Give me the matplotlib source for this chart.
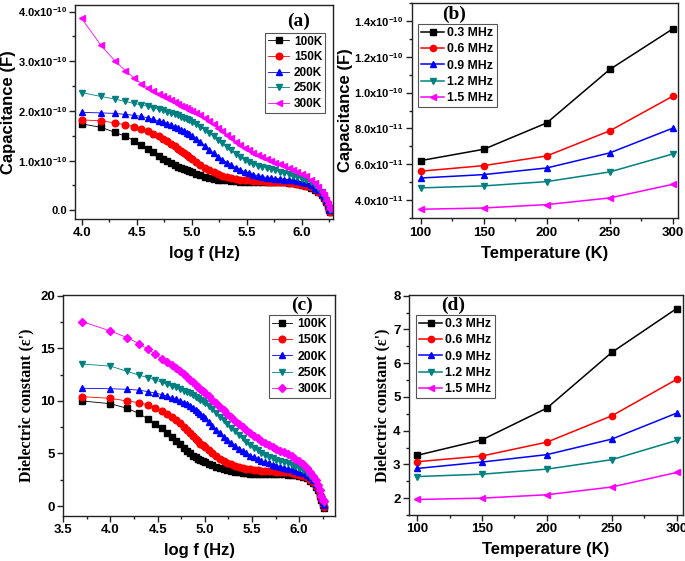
import numpy as np
import matplotlib
matplotlib.use('Agg')
import matplotlib.pyplot as plt
from matplotlib.ticker import MultipleLocator

plt.rcParams['font.family'] = ['Liberation Sans', 'DejaVu Sans']
plt.rcParams['font.weight'] = 'bold'
plt.rcParams['mathtext.default'] = 'regular'

# ---------------- data ----------------
# log f grid (panel a); panel c adds a 5 kHz point at the start
logf = [4.0, 4.176, 4.301, 4.398, 4.477, 4.544, 4.602, 4.653, 4.699, 4.740,
        4.778, 4.813, 4.845, 4.875, 4.903, 4.929, 4.954, 4.978, 5.0,
        5.04, 5.08, 5.12, 5.16, 5.20, 5.24, 5.28, 5.32, 5.36, 5.40,
        5.44, 5.48, 5.52, 5.56, 5.60, 5.64, 5.68, 5.72, 5.76, 5.80,
        5.84, 5.88, 5.92, 5.96, 6.00, 6.04, 6.08, 6.12,
        6.15, 6.18, 6.20, 6.22, 6.235, 6.25, 6.26]
logf_c = [3.699] + logf

temp_labels = ['100K', '150K', '200K', '250K', '300K']

# capacitance, units of 1e-10 F
cap_100K = [1.74, 1.67, 1.57, 1.49, 1.40, 1.32, 1.24, 1.17, 1.09, 1.03, 0.99, 0.95, 0.91, 0.88, 0.85, 0.83, 0.81, 0.79, 0.77,
            0.74, 0.71, 0.68, 0.66, 0.64, 0.62, 0.61, 0.60, 0.59, 0.58, 0.57, 0.57, 0.56, 0.56, 0.56, 0.56, 0.56, 0.56, 0.56, 0.56,
            0.56, 0.55, 0.54, 0.52, 0.50, 0.48, 0.45, 0.41,
            0.36, 0.30, 0.24, 0.16, 0.08, 0.0, -0.04]
cap_150K = [1.82, 1.80, 1.76, 1.72, 1.68, 1.64, 1.59, 1.54, 1.50, 1.44, 1.39, 1.34, 1.29, 1.24, 1.20, 1.15, 1.11, 1.07, 1.04,
            0.98, 0.92, 0.86, 0.81, 0.77, 0.73, 0.70, 0.67, 0.65, 0.63, 0.62, 0.61, 0.60, 0.59, 0.58, 0.58, 0.57, 0.57, 0.57, 0.56,
            0.56, 0.55, 0.54, 0.53, 0.51, 0.49, 0.46, 0.42,
            0.37, 0.31, 0.25, 0.17, 0.09, 0.01, -0.03]
cap_200K = [1.97, 1.96, 1.95, 1.93, 1.91, 1.89, 1.86, 1.83, 1.80, 1.77, 1.74, 1.71, 1.68, 1.65, 1.62, 1.59, 1.56, 1.53, 1.50,
            1.44, 1.37, 1.30, 1.22, 1.15, 1.08, 1.02, 0.96, 0.91, 0.86, 0.82, 0.78, 0.75, 0.72, 0.70, 0.68, 0.66, 0.65, 0.64, 0.63,
            0.62, 0.61, 0.60, 0.58, 0.56, 0.54, 0.50, 0.45,
            0.40, 0.33, 0.27, 0.19, 0.11, 0.03, 0.0]
cap_250K = [2.37, 2.29, 2.24, 2.19, 2.15, 2.12, 2.09, 2.06, 2.03, 2.01, 1.98, 1.96, 1.93, 1.91, 1.88, 1.86, 1.83, 1.81, 1.78,
            1.73, 1.68, 1.62, 1.56, 1.49, 1.42, 1.35, 1.28, 1.21, 1.14, 1.08, 1.02, 0.97, 0.93, 0.90, 0.88, 0.86, 0.83, 0.81, 0.78,
            0.76, 0.73, 0.70, 0.67, 0.64, 0.60, 0.56, 0.50,
            0.44, 0.36, 0.29, 0.20, 0.12, 0.04, 0.01]
cap_300K = [3.86, 3.32, 3.01, 2.81, 2.66, 2.55, 2.47, 2.41, 2.35, 2.30, 2.25, 2.21, 2.17, 2.14, 2.10, 2.07, 2.05, 2.02, 2.00,
            1.96, 1.91, 1.86, 1.80, 1.73, 1.66, 1.59, 1.52, 1.45, 1.38, 1.32, 1.26, 1.21, 1.16, 1.11, 1.07, 1.03, 1.00, 0.96, 0.93,
            0.89, 0.86, 0.82, 0.78, 0.74, 0.69, 0.62, 0.54,
            0.46, 0.37, 0.30, 0.21, 0.13, 0.05, 0.02]

# dielectric constant vs log f (panel c)
eps_100K = [9.99, 9.73, 9.29, 8.81, 8.27, 7.83, 7.39, 6.97, 6.59, 6.21, 5.87, 5.55, 5.25, 5.00, 4.80, 4.65, 4.52, 4.40, 4.30, 4.20,
            4.03, 3.88, 3.75, 3.60, 3.50, 3.40, 3.32, 3.25, 3.20, 3.15, 3.10, 3.07, 3.05, 3.04, 3.03, 3.03, 3.03, 3.03, 3.03, 3.02,
            3.01, 3.00, 2.98, 2.93, 2.87, 2.78, 2.63, 2.42,
            2.20, 1.85, 1.50, 1.00, 0.60, 0.15, -0.20]
eps_150K = [10.40, 10.24, 9.99, 9.83, 9.61, 9.35, 9.07, 8.78, 8.50, 8.18, 7.86, 7.55, 7.22, 6.90, 6.62, 6.37, 6.14, 5.94, 5.77, 5.62,
            5.30, 5.00, 4.75, 4.52, 4.30, 4.12, 3.97, 3.85, 3.74, 3.64, 3.55, 3.48, 3.43, 3.39, 3.36, 3.34, 3.32, 3.30, 3.28, 3.26,
            3.23, 3.20, 3.15, 3.08, 3.00, 2.90, 2.75, 2.52,
            2.30, 1.95, 1.60, 1.10, 0.65, 0.20, -0.10]
eps_200K = [11.20, 11.15, 11.10, 11.02, 10.88, 10.73, 10.60, 10.46, 10.30, 10.14, 9.99, 9.84, 9.68, 9.50, 9.32, 9.13, 8.95, 8.75, 8.55, 8.35,
            8.00, 7.62, 7.25, 6.90, 6.58, 6.27, 5.98, 5.70, 5.45, 5.22, 5.00, 4.80, 4.62, 4.46, 4.31, 4.17, 4.05, 3.94, 3.84, 3.75,
            3.66, 3.57, 3.48, 3.38, 3.27, 3.13, 2.95, 2.72,
            2.45, 2.10, 1.75, 1.25, 0.80, 0.35, 0.10]
eps_250K = [13.50, 13.30, 12.80, 12.45, 12.20, 11.98, 11.76, 11.57, 11.41, 11.27, 11.12, 10.97, 10.84, 10.70, 10.55, 10.40, 10.25, 10.10, 9.95, 9.80,
            9.50, 9.18, 8.84, 8.50, 8.15, 7.80, 7.45, 7.10, 6.76, 6.43, 6.12, 5.82, 5.55, 5.30, 5.08, 4.88, 4.71, 4.56, 4.42, 4.30,
            4.18, 4.06, 3.93, 3.78, 3.60, 3.40, 3.15, 2.85,
            2.55, 2.15, 1.80, 1.30, 0.85, 0.45, 0.25]
eps_300K = [17.53, 16.64, 16.01, 15.44, 14.90, 14.43, 13.98, 13.66, 13.41, 13.10, 12.85, 12.60, 12.30, 12.02, 11.78, 11.55, 11.35, 11.15, 10.95, 10.75,
            10.45, 10.12, 9.80, 9.45, 9.10, 8.75, 8.42, 8.10, 7.80, 7.50, 7.22, 6.95, 6.70, 6.45, 6.20, 5.98, 5.78, 5.60, 5.42, 5.28,
            5.10, 4.92, 4.72, 4.50, 4.25, 3.97, 3.65, 3.28,
            2.90, 2.45, 2.05, 1.50, 1.00, 0.60, 0.50]

# temperature dependence (panels b, d)
temperature = [100, 150, 200, 250, 300]
freq_labels = ['0.3 MHz', '0.6 MHz', '0.9 MHz', '1.2 MHz', '1.5 MHz']
# capacitance in units of 1e-11 F
capT_03 = [6.21, 6.84, 8.31, 11.29, 13.55]
capT_06 = [5.62, 5.93, 6.47, 7.87, 9.80]
capT_09 = [5.24, 5.43, 5.80, 6.64, 8.02]
capT_12 = [4.69, 4.80, 5.04, 5.58, 6.58]
capT_15 = [3.50, 3.57, 3.76, 4.13, 4.89]
epsT_03 = [3.27, 3.73, 4.67, 6.32, 7.62]
epsT_06 = [3.08, 3.25, 3.66, 4.44, 5.52]
epsT_09 = [2.88, 3.07, 3.29, 3.75, 4.52]
epsT_12 = [2.64, 2.71, 2.86, 3.14, 3.71]
epsT_15 = [1.96, 2.00, 2.10, 2.33, 2.76]

# tick labels
a_yticks = [0.0, 1.0e-10, 2.0e-10, 3.0e-10, 4.0e-10]
a_yticklabels = ['0.0', '1.0x10$^{-10}$', '2.0x10$^{-10}$', '3.0x10$^{-10}$', '4.0x10$^{-10}$']
b_yticks = [4.0e-11, 6.0e-11, 8.0e-11, 1.0e-10, 1.2e-10, 1.4e-10]
b_yticklabels = ['4.0x10$^{-11}$', '6.0x10$^{-11}$', '8.0x10$^{-11}$',
                 '1.0x10$^{-10}$', '1.2x10$^{-10}$', '1.4x10$^{-10}$']

colors = ['#000000', '#ff0000', '#0000ff', '#008080', '#ff00ff']
mk_a = ['s', 'o', '^', 'v', '<']
mk_c = ['s', 'o', '^', 'v', 'D']
mk_t = ['s', 'o', '^', 'v', '<']

serif = ['Liberation Serif', 'DejaVu Serif']

fig = plt.figure(figsize=(6.85, 5.61), dpi=100)
ax_a = fig.add_axes([0.1095, 0.6096, 0.3771, 0.3814])
ax_b = fig.add_axes([0.601, 0.611, 0.389, 0.384])
ax_c = fig.add_axes([0.0924, 0.080, 0.3966, 0.394])
ax_d = fig.add_axes([0.597, 0.082, 0.400, 0.392])


def style(ax, ysize=9.5):
    for s in ax.spines.values():
        s.set_linewidth(1.0)
        s.set_color('#222222')
    ax.tick_params(which='both', direction='out', top=False, right=False,
                   labelsize=9.5, pad=2, width=1.0, color='#222222')
    ax.tick_params(axis='y', labelsize=ysize)
    ax.tick_params(which='major', length=4)
    ax.tick_params(which='minor', length=2.5)
    for lab in ax.get_xticklabels() + ax.get_yticklabels():
        lab.set_fontweight('bold')


def legend(ax, loc, anchor, size, hl, htp, ls, bp):
    lg = ax.legend(loc=loc, bbox_to_anchor=anchor, borderaxespad=0,
                   prop={'weight': 'bold', 'size': size}, fancybox=False,
                   edgecolor='#555555', framealpha=1, handlelength=hl,
                   handletextpad=htp, labelspacing=ls, borderpad=bp)
    lg.get_frame().set_linewidth(0.8)


# ---- panel a ----
caps = [cap_100K, cap_150K, cap_200K, cap_250K, cap_300K]
for vals, c, m, lab in zip(caps, colors, mk_a, temp_labels):
    ax_a.plot(logf, np.array(vals) * 1e-10, color=c, marker=m, ms=4.8,
              lw=0.6, mec=c, mfc=c, label=lab)
ax_a.set_xlim(3.94, 6.287)
ax_a.set_ylim(-0.175e-10, 4.13e-10)
ax_a.xaxis.set_major_locator(MultipleLocator(0.5))
ax_a.xaxis.set_minor_locator(MultipleLocator(0.25))
ax_a.set_yticks(a_yticks, labels=a_yticklabels)
ax_a.yaxis.set_minor_locator(MultipleLocator(0.5e-10))
ax_a.xaxis.set_major_formatter(plt.FormatStrFormatter('%.1f'))
ax_a.set_xlabel('log f (Hz)', fontsize=12, fontweight='bold', labelpad=5)
ax_a.set_ylabel('Capacitance (F)', fontsize=12, fontweight='bold')
ax_a.yaxis.set_label_coords(-0.228, 0.5)
ax_a.text(0.866, 0.922, '(a)', transform=ax_a.transAxes, ha='center', va='center',
          fontsize=14, fontweight='bold', family=serif)
style(ax_a, ysize=8.0)
legend(ax_a, 'upper right', (0.969, 0.871), 8.5, 1.75, 0.42, 0.3, 0.25)

# ---- panel b ----
capT = [capT_03, capT_06, capT_09, capT_12, capT_15]
for vals, c, m, lab in zip(capT, colors, mk_t, freq_labels):
    ax_b.plot(temperature, np.array(vals) * 1e-11, color=c, marker=m, ms=4.5,
              lw=1.1, mec=c, mfc=c, label=lab)
ax_b.set_xlim(92.9, 304.2)
ax_b.set_ylim(3.0e-11, 1.5e-10)
ax_b.xaxis.set_major_locator(MultipleLocator(50))
ax_b.xaxis.set_minor_locator(MultipleLocator(25))
ax_b.set_yticks(b_yticks, labels=b_yticklabels)
ax_b.yaxis.set_minor_locator(MultipleLocator(1e-11))
ax_b.set_xlabel('Temperature (K)', fontsize=12, fontweight='bold', labelpad=5)
ax_b.set_ylabel('Capacitance (F)', fontsize=12, fontweight='bold')
ax_b.yaxis.set_label_coords(-0.222, 0.5)
ax_b.text(0.158, 0.948, '(b)', transform=ax_b.transAxes, ha='center', va='center',
          fontsize=14, fontweight='bold', family=serif)
style(ax_b, ysize=8.0)
legend(ax_b, 'upper left', (0.024, 0.901), 8.8, 1.9, 0.25, 0.35, 0.25)

# ---- panel c ----
epss = [eps_100K, eps_150K, eps_200K, eps_250K, eps_300K]
for vals, c, m, lab in zip(epss, colors, mk_c, temp_labels):
    ax_c.plot(logf_c, vals, color=c, marker=m, ms=4.8 if m != 'D' else 4.2,
              lw=0.6, mec=c, mfc=c, label=lab)
ax_c.set_xlim(3.5, 6.38)
ax_c.set_ylim(-0.95, 20.05)
ax_c.xaxis.set_major_locator(MultipleLocator(0.5))
ax_c.xaxis.set_minor_locator(MultipleLocator(0.25))
ax_c.yaxis.set_major_locator(MultipleLocator(5))
ax_c.yaxis.set_minor_locator(MultipleLocator(2.5))
ax_c.xaxis.set_major_formatter(plt.FormatStrFormatter('%.1f'))
ax_c.set_xlabel('log f (Hz)', fontsize=12, fontweight='bold', labelpad=5)
ax_c.set_ylabel("Dielectric constant (\u03b5')", fontsize=11.5, fontweight='bold',
                family=serif)
ax_c.yaxis.set_label_coords(-0.105, 0.5)
ax_c.text(0.878, 0.955, '(c)', transform=ax_c.transAxes, ha='center', va='center',
          fontsize=14, fontweight='bold', family=serif)
style(ax_c)
legend(ax_c, 'upper right', (0.982, 0.91), 8.8, 1.7, 0.42, 0.35, 0.25)

# ---- panel d ----
epsT = [epsT_03, epsT_06, epsT_09, epsT_12, epsT_15]
for vals, c, m, lab in zip(epsT, colors, mk_t, freq_labels):
    ax_d.plot(temperature, vals, color=c, marker=m, ms=4.5,
              lw=1.1, mec=c, mfc=c, label=lab)
ax_d.set_xlim(93.6, 304.9)
ax_d.set_ylim(1.5, 8.02)
ax_d.xaxis.set_major_locator(MultipleLocator(50))
ax_d.xaxis.set_minor_locator(MultipleLocator(25))
ax_d.yaxis.set_major_locator(MultipleLocator(1))
ax_d.yaxis.set_minor_locator(MultipleLocator(0.5))
ax_d.set_xlabel('Temperature (K)', fontsize=12, fontweight='bold', labelpad=5)
ax_d.set_ylabel("Dielectric constant (\u03b5')", fontsize=11.5, fontweight='bold',
                family=serif)
ax_d.yaxis.set_label_coords(-0.069, 0.5)
ax_d.text(0.162, 0.955, '(d)', transform=ax_d.transAxes, ha='center', va='center',
          fontsize=14, fontweight='bold', family=serif)
style(ax_d)
legend(ax_d, 'upper left', (0.026, 0.909), 8.8, 1.9, 0.25, 0.35, 0.25)

fig.savefig('out.png', dpi=100, facecolor='white')
